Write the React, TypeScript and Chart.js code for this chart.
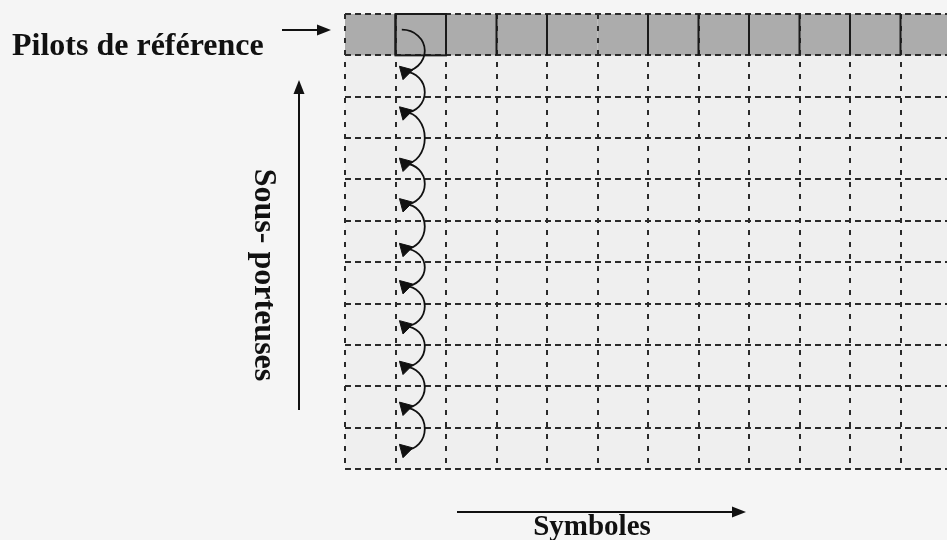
import React, { useEffect, useRef } from "react";
import { Chart, registerables } from "chart.js";

Chart.register(...registerables);

// ---- data ----
const symbolCount = 12; // columns (symbols) visible, last one clipped by the frame
const subcarrierCount = 11; // rows: 1 pilot row + 10 data rows
const pilotRow = 10; // index of the reference pilot row (top)
const pilotCols = [0, 1, 2, 3, 4, 5, 6, 7, 8, 9, 10, 11];
const highlightedPilotCol = 1;
const solidPilotEdges = [1, 2, 3, 4, 6, 7, 8, 9, 10, 11];
const arrowX = 1.19;
const arrowY = [9.6, 8.62, 7.38, 6.4, 5.32, 4.42, 3.45, 2.47, 1.48, 0.46];
const arcStart = { x: 1.06, y: 10.62 };
const arcBulgeX = 1.58;
const pilotLabel = "Pilots de référence";
const subcarrierLabel = "Sous- porteuses";
const symbolLabel = "Symboles";

const CANVAS_W = 960;
const CANVAS_H = 540;

function arrowHead(ctx: CanvasRenderingContext2D, tx: number, ty: number, dir: "right" | "up") {
  ctx.beginPath();
  if (dir === "right") {
    ctx.moveTo(tx, ty);
    ctx.lineTo(tx - 14, ty - 5.5);
    ctx.lineTo(tx - 14, ty + 5.5);
  } else {
    ctx.moveTo(tx, ty);
    ctx.lineTo(tx - 5.5, ty + 14);
    ctx.lineTo(tx + 5.5, ty + 14);
  }
  ctx.closePath();
  ctx.fill();
}

const diagramPlugin = {
  id: "ofdmDiagram",
  beforeDraw(chart: any) {
    const { ctx, chartArea, scales } = chart;
    const x = scales.x;
    const y = scales.y;
    ctx.save();
    ctx.fillStyle = "#f5f5f5";
    ctx.fillRect(0, 0, chart.width, chart.height);
    ctx.fillStyle = "#efefef";
    ctx.fillRect(chartArea.left, chartArea.top, chartArea.right - chartArea.left, chartArea.bottom - chartArea.top);
    // pilot row cells
    ctx.fillStyle = "#acacac";
    const top = y.getPixelForValue(pilotRow + 1);
    const bot = y.getPixelForValue(pilotRow);
    pilotCols.forEach((c) => {
      const l = x.getPixelForValue(c);
      const r = x.getPixelForValue(c + 1);
      ctx.fillRect(l, top, r - l, bot - top);
    });
    ctx.restore();
  },
  beforeDatasetsDraw(chart: any) {
    const { ctx, scales } = chart;
    const x = scales.x;
    const y = scales.y;
    const top = y.getPixelForValue(pilotRow + 1);
    const bot = y.getPixelForValue(pilotRow);
    ctx.save();
    ctx.strokeStyle = "#1a1a1a";
    ctx.lineWidth = 2;
    ctx.setLineDash([]);
    solidPilotEdges.forEach((c) => {
      const px = x.getPixelForValue(c);
      ctx.beginPath();
      ctx.moveTo(px, top);
      ctx.lineTo(px, bot);
      ctx.stroke();
    });
    const l = x.getPixelForValue(highlightedPilotCol);
    const r = x.getPixelForValue(highlightedPilotCol + 1);
    ctx.strokeRect(l, top, r - l, bot - top);
    // arcs linking pilot to each subcarrier
    ctx.lineWidth = 1.8;
    ctx.strokeStyle = "#111";
    const pts = [arcStart, ...arrowY.map((v) => ({ x: arrowX, y: v }))];
    const bulge = x.getPixelForValue(arcBulgeX);
    for (let i = 0; i < pts.length - 1; i++) {
      const x0 = x.getPixelForValue(pts[i].x);
      const y0 = y.getPixelForValue(pts[i].y);
      const x1 = x.getPixelForValue(pts[i + 1].x);
      const y1 = y.getPixelForValue(pts[i + 1].y);
      const cx = (x0 + x1) / 2;
      const cy = (y0 + y1) / 2;
      const ry = (y1 - y0) / 2;
      ctx.beginPath();
      ctx.ellipse(cx, cy, bulge - cx, ry, 0, -Math.PI / 2, Math.PI / 2);
      ctx.stroke();
    }
    ctx.restore();
  },
  afterDraw(chart: any) {
    const { ctx } = chart;
    ctx.save();
    ctx.fillStyle = "#111";
    ctx.strokeStyle = "#111";
    ctx.lineWidth = 2;
    // Pilots label + arrow
    ctx.font = "bold 32px 'Liberation Serif', 'Times New Roman', serif";
    ctx.textBaseline = "alphabetic";
    ctx.textAlign = "left";
    ctx.fillText(pilotLabel, 12, 55);
    ctx.beginPath();
    ctx.moveTo(282, 30);
    ctx.lineTo(320, 30);
    ctx.stroke();
    arrowHead(ctx, 331, 30, "right");
    // vertical arrow
    ctx.beginPath();
    ctx.moveTo(299, 410);
    ctx.lineTo(299, 92);
    ctx.stroke();
    arrowHead(ctx, 299, 80, "up");
    // Sous-porteuses rotated
    ctx.save();
    ctx.translate(263, 275);
    ctx.rotate(Math.PI / 2);
    ctx.textAlign = "center";
    ctx.textBaseline = "middle";
    ctx.font = "bold 32px 'Liberation Serif', 'Times New Roman', serif";
    ctx.fillText(subcarrierLabel, 0, 0);
    ctx.restore();
    // Symboles arrow + label
    ctx.beginPath();
    ctx.moveTo(457, 512);
    ctx.lineTo(736, 512);
    ctx.stroke();
    arrowHead(ctx, 746, 512, "right");
    ctx.font = "bold 29px 'Liberation Serif', 'Times New Roman', serif";
    ctx.textAlign = "center";
    ctx.textBaseline = "alphabetic";
    ctx.fillText(symbolLabel, 592, 535);
    ctx.restore();
  },
};

export default function App() {
  const ref = useRef<HTMLCanvasElement | null>(null);
  useEffect(() => {
    if (!ref.current) return;
    const colW = (955.8 - 345) / symbolCount;
    const chart = new Chart(ref.current, {
      type: "scatter",
      data: {
        datasets: [
          {
            label: "arrows",
            data: arrowY.map((v) => ({ x: arrowX, y: v })),
            pointStyle: "triangle",
            radius: 8,
            rotation: 195,
            backgroundColor: "#111",
            borderColor: "#111",
            borderWidth: 1,
          } as any,
        ],
      },
      options: {
        animation: false,
        responsive: false,
        events: [],
        layout: { padding: { left: 345, top: 14, bottom: CANVAS_H - 469, right: CANVAS_W - (345 + colW * symbolCount) } },
        plugins: { legend: { display: false }, tooltip: { enabled: false }, title: { display: false } },
        scales: {
          x: {
            type: "linear",
            min: 0,
            max: symbolCount,
            ticks: { display: false, stepSize: 1 },
            grid: { color: "#2a2a2a", lineWidth: 2, drawTicks: false },
            border: { display: false, dash: [5, 7] },
          },
          y: {
            type: "linear",
            min: 0,
            max: subcarrierCount,
            ticks: { display: false, stepSize: 1 },
            grid: { color: "#2a2a2a", lineWidth: 2, drawTicks: false },
            border: { display: false, dash: [6, 4] },
          },
        },
      },
      plugins: [diagramPlugin],
    });
    return () => chart.destroy();
  }, []);
  return (
    <div style={{ position: "fixed", left: 0, top: 0, width: 947, height: 540, overflow: "hidden", background: "#f5f5f5" }}>
      <canvas ref={ref} width={CANVAS_W} height={CANVAS_H} style={{ width: CANVAS_W, height: CANVAS_H, display: "block" }} />
    </div>
  );
}
